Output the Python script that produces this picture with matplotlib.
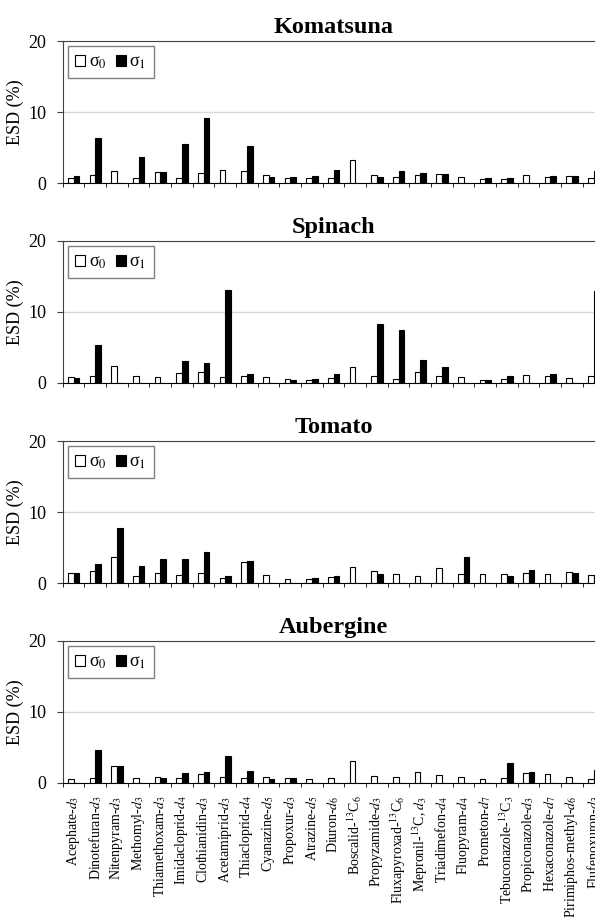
import matplotlib
matplotlib.use('Agg')
import matplotlib.pyplot as plt
import numpy as np

plt.rcParams['font.family'] = ['Liberation Serif', 'DejaVu Serif']
plt.rcParams['mathtext.fontset'] = 'stix'

# Data
compounds = [r'Acephate-$d_3$', r'Dinotefuran-$d_3$', r'Nitenpyram-$d_3$', r'Methomyl-$d_3$',
             r'Thiamethoxam-$d_3$', r'Imidacloprid-$d_4$', r'Clothianidin-$d_3$', r'Acetamiprid-$d_3$',
             r'Thiacloprid-$d_4$', r'Cyanazine-$d_5$', r'Propoxur-$d_3$', r'Atrazine-$d_5$',
             r'Diuron-$d_6$', r'Boscalid-$^{13}$C$_6$', r'Propyzamide-$d_3$',
             r'Fluxapyroxad-$^{13}$C$_6$', r'Mepronil-$^{13}$C, $d_3$', r'Triadimefon-$d_4$',
             r'Fluopyram-$d_4$', r'Prometon-$d_7$', r'Tebuconazole-$^{13}$C$_3$',
             r'Propiconazole-$d_3$', r'Hexaconazole-$d_7$', r'Pirimiphos-methyl-$d_6$',
             r'Flufenoxuron-$d_3$']

crops = ['Komatsuna', 'Spinach', 'Tomato', 'Aubergine']

komatsuna_s0 = [0.65, 1.2, 1.7, 0.65, 1.55, 0.75, 1.45, 1.9, 1.7, 1.1, 0.65, 0.65, 0.65,
                3.25, 1.1, 0.9, 1.1, 1.25, 0.9, 0.6, 0.5, 1.1, 0.9, 0.95, 0.65]
komatsuna_s1 = [1.0, 6.3, 0, 3.6, 1.5, 5.45, 9.15, 0, 5.15, 0.9, 0.9, 1.0, 1.9,
                0, 0.85, 1.7, 1.35, 1.25, 0, 0.7, 0.7, 0, 1.0, 0.95, 1.65]

spinach_s0 = [0.85, 1.0, 2.4, 1.0, 0.85, 1.45, 1.55, 0.8, 1.0, 0.8, 0.55, 0.45, 0.65,
              2.25, 0.95, 0.6, 1.6, 0.95, 0.9, 0.4, 0.6, 1.1, 1.0, 0.7, 1.0]
spinach_s1 = [0.65, 5.3, 0, 0, 0, 3.1, 2.8, 13.05, 1.25, 0, 0.45, 0.6, 1.2,
              0, 8.3, 7.5, 3.2, 2.25, 0, 0.4, 1.0, 0, 1.25, 0, 12.9]

tomato_s0 = [1.35, 1.65, 3.65, 1.0, 1.4, 1.2, 1.45, 0.75, 2.95, 1.15, 0.6, 0.55, 0.8,
             2.25, 1.65, 1.3, 0.95, 2.1, 1.3, 1.3, 1.3, 1.45, 1.3, 1.55, 1.1]
tomato_s1 = [1.45, 2.65, 7.75, 2.45, 3.35, 3.35, 4.35, 1.0, 3.1, 0, 0, 0.75, 0.95,
             0, 1.3, 0, 0, 0, 3.65, 0, 1.0, 1.9, 0, 1.4, 1.2]

aubergine_s0 = [0.5, 0.75, 2.35, 0.7, 0.8, 0.7, 1.2, 0.9, 0.7, 0.8, 0.65, 0.6, 0.65,
                3.05, 0.95, 0.8, 1.55, 1.15, 0.85, 0.55, 0.7, 1.35, 1.3, 0.8, 0.55]
aubergine_s1 = [0, 4.6, 2.35, 0, 0.7, 1.45, 1.6, 3.8, 1.75, 0.55, 0.65, 0, 0,
                0, 0, 0, 0, 0, 0, 0, 2.8, 1.55, 0, 0, 1.85]

sigma0 = [komatsuna_s0, spinach_s0, tomato_s0, aubergine_s0]
sigma1 = [komatsuna_s1, spinach_s1, tomato_s1, aubergine_s1]

# Plot
fig = plt.figure(figsize=(5.95, 9.24), dpi=100)
x = np.arange(len(compounds))
bottoms = [0.8019, 0.5855, 0.3690, 0.1526]

for i, crop in enumerate(crops):
    ax = fig.add_axes([0.1054, bottoms[i], 0.9104, 0.1537])
    ax.bar(x - 0.13, sigma0[i], 0.26, color='white', edgecolor='black', linewidth=0.8,
           label='σ$_0$', zorder=3)
    ax.bar(x + 0.13, sigma1[i], 0.26, color='black', edgecolor='black', linewidth=0.8,
           label='σ$_1$', zorder=3)
    ax.axhline(10, color='#d9d9d9', linewidth=1, zorder=0)
    ax.set_xlim(-0.5, len(compounds) - 0.5)
    ax.set_ylim(0, 20)
    ax.set_yticks([0, 10, 20])
    ax.tick_params(axis='y', labelsize=13, length=4, pad=8, color='#404040')
    ax.set_xticks(x)
    ax.set_xticks(np.arange(-0.5, len(compounds)), minor=True)
    ax.tick_params(axis='x', which='major', length=0, pad=9)
    ax.tick_params(axis='x', which='minor', length=3, direction='out')
    if i == len(crops) - 1:
        ax.set_xticklabels(compounds, rotation=90, fontsize=10)
    else:
        ax.set_xticklabels([])
    ax.spines['right'].set_visible(False)
    ax.spines['top'].set_color('#404040')
    ax.spines['left'].set_color('#404040')
    ax.spines['bottom'].set_color('black')
    ax.set_ylabel('ESD (%)', fontsize=13)
    ax.yaxis.set_label_coords(-0.072, 0.5)
    ax.set_title(crop, fontsize=17.5, fontweight='bold', pad=6)
    leg = ax.legend(loc='upper left', ncol=2, fontsize=13, frameon=True, fancybox=False,
                    edgecolor='#606060', handlelength=0.55, handleheight=0.55,
                    handletextpad=0.2, columnspacing=0.5, borderpad=0.4,
                    borderaxespad=0.3)
    leg.get_frame().set_linewidth(1)

fig.savefig('out.png', dpi=100)
